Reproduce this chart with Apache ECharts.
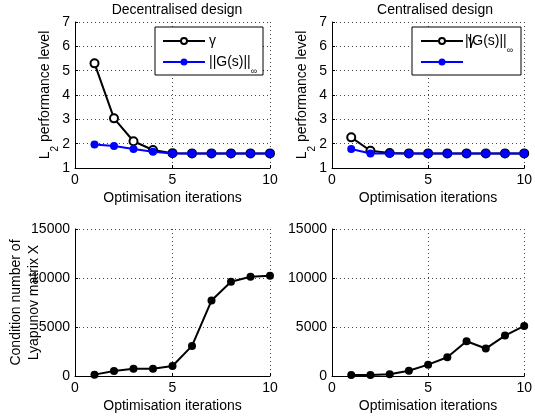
<!DOCTYPE html>
<html>
<head>
<meta charset="utf-8">
<script src="https://cdn.jsdelivr.net/npm/echarts@6/dist/echarts.min.js"></script>
<style>html,body{margin:0;padding:0;background:#fff}#c{width:535px;height:419px}</style>
</head>
<body>
<div id="c"></div>
<script>
const iterations = [1,2,3,4,5,6,7,8,9,10];
const decGamma = [5.30,3.04,2.10,1.74,1.61,1.60,1.60,1.60,1.60,1.60];
const decGinf  = [1.97,1.90,1.78,1.67,1.60,1.60,1.60,1.60,1.60,1.60];
const cenGamma = [2.26,1.71,1.62,1.60,1.60,1.60,1.60,1.60,1.60,1.60];
const cenGinf  = [1.78,1.60,1.60,1.60,1.60,1.60,1.60,1.60,1.60,1.60];
const decCond  = [140,510,750,750,1020,3070,7700,9610,10120,10230];
const cenCond  = [100,100,170,540,1160,1910,3540,2800,4120,5110];
const xTicks = [0,5,10];
const perfTicks = [1,2,3,4,5,6,7];
const condTicks = [0,5000,10000,15000];

const pairs = (ys) => iterations.map((x,i)=>[x, ys[i]]);
const FONT = 'Liberation Sans, Arial, sans-serif';
const FS = 14;
const grids = [
  {left:75, top:22, width:195, height:146},
  {left:332, top:22, width:195, height:146},
  {left:75, top:229, width:195, height:147},
  {left:332, top:229, width:195, height:147}
];
const gridLine = {show:true, lineStyle:{color:'#444', type:[1,3], width:1}};
function xAx(i){
  return {type:'value', gridIndex:i, min:xTicks[0], max:xTicks[xTicks.length-1], interval:5,
    name:'Optimisation iterations', nameLocation:'middle', nameGap:23, nameMoveOverlap:false,
    nameTextStyle:{fontFamily:FONT, fontSize:FS, color:'#000'},
    axisLine:{lineStyle:{color:'#000', width:1}},
    axisTick:{inside:true, length:3, lineStyle:{color:'#000'}},
    axisLabel:{fontFamily:FONT, fontSize:FS, color:'#000', margin:5},
    splitLine:gridLine};
}
function yAx(i, ticks, name, gap, rich){
  return {type:'value', gridIndex:i, min:ticks[0], max:ticks[ticks.length-1], interval:ticks[1]-ticks[0],
    name:name, nameLocation:'middle', nameGap:gap, nameRotate:90, nameMoveOverlap:false,
    nameTextStyle:{fontFamily:FONT, fontSize:FS, color:'#000', lineHeight:18, rich:rich},
    axisLine:{show:true, lineStyle:{color:'#000', width:1}},
    axisTick:{show:true, inside:true, length:3, lineStyle:{color:'#000'}},
    axisLabel:{fontFamily:FONT, fontSize:FS, color:'#000', margin:5, formatter:(v)=>String(v)},
    splitLine:gridLine};
}
const l2rich = {sub:{fontFamily:FONT, fontSize:10, color:'#000', verticalAlign:'bottom', padding:[0,0,-6,0]}};
const l2name = 'L{sub|2} performance level';

function gammaSeries(i, ys){
  return {type:'line', xAxisIndex:i, yAxisIndex:i, data:pairs(ys), symbol:'circle', symbolSize:8,
    showAllSymbol:true, lineStyle:{color:'#000', width:2}, itemStyle:{color:'#fff', borderColor:'#000', borderWidth:2},
    z:2, animation:false};
}
function ginfSeries(i, ys){
  return {type:'line', xAxisIndex:i, yAxisIndex:i, data:pairs(ys), symbol:'circle', symbolSize:8,
    lineStyle:{color:'#0000ff', width:2}, itemStyle:{color:'#0000ff', borderWidth:0},
    z:3, animation:false};
}
function condSeries(i, ys){
  return {type:'line', xAxisIndex:i, yAxisIndex:i, data:pairs(ys), symbol:'circle', symbolSize:8,
    lineStyle:{color:'#000', width:2}, itemStyle:{color:'#000', borderWidth:0},
    z:2, animation:false};
}
const ginfRich = {
  a:{fontFamily:FONT, fontSize:FS, color:'#000'},
  s:{fontFamily:FONT, fontSize:9, color:'#000', verticalAlign:'bottom', padding:[0,0,-7,0]}
};
function legendGraphics(bx, by, bw, bh, lx1, lx2, texts){
  const g = [];
  g.push({type:'rect', shape:{x:bx, y:by, width:bw, height:bh}, style:{fill:'#fff', stroke:'#000', lineWidth:1}, z:10});
  const y1 = by+14, y2 = by+35;
  const mx = (lx1+lx2)/2;
  g.push({type:'line', shape:{x1:lx1, y1:y1, x2:lx2, y2:y1}, style:{stroke:'#000', lineWidth:2}, z:11});
  g.push({type:'circle', shape:{cx:mx, cy:y1, r:3}, style:{fill:'#fff', stroke:'#000', lineWidth:2}, z:12});
  g.push({type:'line', shape:{x1:lx1, y1:y2, x2:lx2, y2:y2}, style:{stroke:'#0000ff', lineWidth:2}, z:11});
  g.push({type:'circle', shape:{cx:mx, cy:y2, r:3.5}, style:{fill:'#0000ff'}, z:12});
  texts.forEach(t=>{
    g.push({type:'text', x:t.x, y:t.row===1?y1:y2, style:{text:t.text, rich:ginfRich, font:FS+'px '+FONT, fill:'#000', verticalAlign:'middle', textVerticalAlign:'middle'}, z:13});
  });
  return g;
}

const chart = echarts.init(document.getElementById('c'), null, {renderer:'canvas'});
chart.setOption({
  backgroundColor:'#fff',
  animation:false,
  title:[
    {text:'Decentralised design', left:172, top:-2, textAlign:'center', textStyle:{fontFamily:FONT, fontSize:FS, fontWeight:'normal', color:'#000'}},
    {text:'Centralised design', left:430, top:-2, textAlign:'center', textStyle:{fontFamily:FONT, fontSize:FS, fontWeight:'normal', color:'#000'}}
  ],
  grid:grids,
  xAxis:[xAx(0),xAx(1),xAx(2),xAx(3)],
  yAxis:[
    yAx(0, perfTicks, l2name, 21, l2rich),
    yAx(1, perfTicks, l2name, 21, l2rich),
    yAx(2, condTicks, 'Condition number of\nLyapunov matrix X', 32, null),
    yAx(3, condTicks, '', 0, null)
  ],
  series:[
    gammaSeries(0, decGamma), ginfSeries(0, decGinf),
    gammaSeries(1, cenGamma), ginfSeries(1, cenGinf),
    condSeries(2, decCond), condSeries(3, cenCond)
  ],
  graphic:[].concat(
    legendGraphics(155, 27, 108, 48, 163, 205, [
      {x:209, row:1, text:'{a|γ}'},
      {x:209, row:2, text:'{a|||G(s)||}{s|∞}'}
    ]),
    legendGraphics(412, 27, 109, 48, 421, 463, [
      {x:468, row:1, text:'{a|γ}'},
      {x:465, row:1, text:'{a|||G(s)||}{s|∞}'}
    ])
  )
});
</script>
</body>
</html>
